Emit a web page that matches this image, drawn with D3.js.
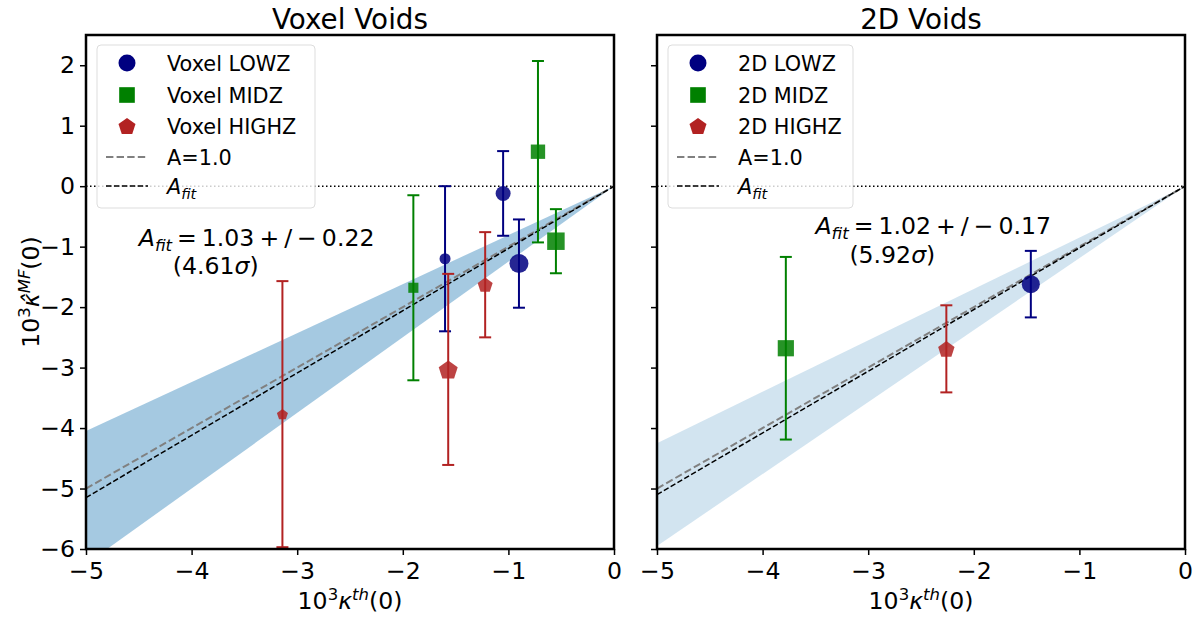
<!DOCTYPE html>
<html>
<head>
<meta charset="utf-8">
<script src="https://cdn.jsdelivr.net/npm/d3@7"></script>
<style>
  body { margin: 0; background: #fff; }
  svg text { font-family: "DejaVu Sans", sans-serif; fill: #000; }
</style>
</head>
<body>
<div id="chart"></div>
<script>
// ---- data ----
const xTicks = [-5, -4, -3, -2, -1, 0];
const yTicks = [-6, -5, -4, -3, -2, -1, 0, 1, 2];
const panelTitles = ['Voxel Voids', '2D Voids'];
const panelPrefix = ['Voxel', '2D'];
const fitA = [1.03, 1.02];
const fitErr = [0.22, 0.17];
const fitSigma = [4.61, 5.92];

const voxelLowX = [-1.60, -1.05, -0.90];
const voxelLowY = [-1.20, -0.12, -1.28];
const voxelLowErr = [1.20, 0.70, 0.73];
const voxelLowW = [0.55, 0.75, 0.95];

const voxelMidX = [-1.90, -0.72, -0.55];
const voxelMidY = [-1.68, 0.57, -0.91];
const voxelMidErr = [1.53, 1.50, 0.53];
const voxelMidW = [0.55, 0.78, 0.95];

const voxelHighX = [-3.14, -1.57, -1.22];
const voxelHighY = [-3.77, -3.03, -1.63];
const voxelHighErr = [2.20, 1.58, 0.87];
const voxelHighW = [0.55, 0.95, 0.75];

const twoDLowX = [-1.46];
const twoDLowY = [-1.62];
const twoDLowErr = [0.55];
const twoDLowW = [0.9];

const twoDMidX = [-3.78];
const twoDMidY = [-2.68];
const twoDMidErr = [1.51];
const twoDMidW = [0.88];

const twoDHighX = [-2.26];
const twoDHighY = [-2.69];
const twoDHighErr = [0.72];
const twoDHighW = [0.82];

const seriesNames = ['LOWZ', 'MIDZ', 'HIGHZ'];
const seriesColors = ['#000080', '#008000', '#b22222'];
const seriesShapes = ['circle', 'square', 'pentagon'];

function zip(xs, ys, es, ws) {
  return xs.map((x, i) => ({ x, y: ys[i], err: es[i], w: ws[i] }));
}

const panels = [
  [zip(voxelLowX, voxelLowY, voxelLowErr, voxelLowW),
   zip(voxelMidX, voxelMidY, voxelMidErr, voxelMidW),
   zip(voxelHighX, voxelHighY, voxelHighErr, voxelHighW)],
  [zip(twoDLowX, twoDLowY, twoDLowErr, twoDLowW),
   zip(twoDMidX, twoDMidY, twoDMidErr, twoDMidW),
   zip(twoDHighX, twoDHighY, twoDHighErr, twoDHighW)]
];

// ---- layout ----
const W = 1200, H = 619;
const panelLeft = [86, 657];
const panelWidth = 528;
const plotTop = 35, plotBottom = 549;
const bandAlpha = [0.4, 0.2];
const labelSize = 23.6, legendSize = 20.8, titleSize = 27.8;

const svg = d3.select('#chart').append('svg')
  .attr('width', W).attr('height', H)
  .attr('viewBox', `0 0 ${W} ${H}`);

const y = d3.scaleLinear().domain([-6, 2.5]).range([plotBottom, plotTop]);
const sizeScale = d3.scaleLinear().domain([0, 1]).range([0, 10]);
const fmt = d => d < 0 ? '\u2212' + Math.abs(d) : String(d);

function markerPath(shape, r) {
  if (shape === 'circle') {
    return d3.symbol(d3.symbolCircle, Math.PI * r * r)();
  }
  if (shape === 'square') {
    const s = r * 0.92;
    return `M${-s},${-s}H${s}V${s}H${-s}Z`;
  }
  const pts = d3.range(5).map(k => {
    const a = -Math.PI / 2 + k * 2 * Math.PI / 5;
    return [r * 1.05 * Math.cos(a), r * 1.05 * Math.sin(a) + r * 0.1];
  });
  return 'M' + pts.map(p => p.join(',')).join('L') + 'Z';
}

panels.forEach((series, p) => {
  const x = d3.scaleLinear().domain([-5, 0]).range([panelLeft[p], panelLeft[p] + panelWidth]);
  const g = svg.append('g');

  const clipId = `clip${p}`;
  svg.append('clipPath').attr('id', clipId)
    .append('rect')
    .attr('x', x(-5)).attr('y', plotTop)
    .attr('width', panelWidth).attr('height', plotBottom - plotTop);

  const plot = g.append('g').attr('clip-path', `url(#${clipId})`);

  // fit band
  const xs = [-5, 0];
  const band = d3.area()
    .x(d => x(d))
    .y0(d => y((fitA[p] + fitErr[p]) * d))
    .y1(d => y((fitA[p] - fitErr[p]) * d));
  plot.append('path').datum(xs)
    .attr('d', band)
    .attr('fill', '#1f77b4')
    .attr('fill-opacity', bandAlpha[p]);

  const line = a => d3.line().x(d => x(d)).y(d => y(a * d))(xs);
  plot.append('path').attr('d', line(1.0))
    .attr('fill', 'none').attr('stroke', '#808080')
    .attr('stroke-width', 2).attr('stroke-dasharray', '7.4,3.2');
  plot.append('path').attr('d', line(fitA[p]))
    .attr('fill', 'none').attr('stroke', '#000')
    .attr('stroke-width', 1.5).attr('stroke-dasharray', '5.5,2.4');

  // zero line
  plot.append('line')
    .attr('x1', x(-5)).attr('x2', x(0))
    .attr('y1', y(0)).attr('y2', y(0))
    .attr('stroke', '#000').attr('stroke-width', 1.5)
    .attr('stroke-dasharray', '1.5,2.5');

  // error bars + markers
  series.forEach((pts, s) => {
    const col = seriesColors[s];
    const eb = plot.append('g');
    pts.forEach(d => {
      const cx = x(d.x);
      eb.append('line')
        .attr('x1', cx).attr('x2', cx)
        .attr('y1', y(d.y + d.err)).attr('y2', y(d.y - d.err))
        .attr('stroke', col).attr('stroke-width', 2);
      [d.y + d.err, d.y - d.err].forEach(v => {
        eb.append('line')
          .attr('x1', cx - 6).attr('x2', cx + 6)
          .attr('y1', y(v)).attr('y2', y(v))
          .attr('stroke', col).attr('stroke-width', 2);
      });
    });
    plot.append('g').selectAll('path')
      .data(pts)
      .join('path')
      .attr('transform', d => `translate(${x(d.x)},${y(d.y)})`)
      .attr('d', d => markerPath(seriesShapes[s], sizeScale(d.w)))
      .attr('fill', col)
      .attr('fill-opacity', 0.85);
  });

  // axes
  const xAxis = g.append('g')
    .attr('transform', `translate(0,${plotBottom})`)
    .call(d3.axisBottom(x).tickValues(xTicks).tickSize(6).tickPadding(7).tickFormat(fmt));
  const yAxis = g.append('g')
    .attr('transform', `translate(${x(-5)},0)`)
    .call(d3.axisLeft(y).tickValues(yTicks).tickSize(6).tickPadding(5)
      .tickFormat(p === 0 ? fmt : () => ''));
  [xAxis, yAxis].forEach(a => {
    a.select('.domain').remove();
    a.selectAll('.tick line').attr('stroke', '#000').attr('stroke-width', 1.5);
    a.selectAll('.tick text').attr('font-size', labelSize).attr('font-family', 'DejaVu Sans');
  });

  // frame
  g.append('rect')
    .attr('x', x(-5)).attr('y', plotTop)
    .attr('width', panelWidth).attr('height', plotBottom - plotTop)
    .attr('fill', 'none').attr('stroke', '#000').attr('stroke-width', 2.5);

  // title
  g.append('text')
    .attr('x', x(-2.5)).attr('y', 29)
    .attr('text-anchor', 'middle').attr('font-size', titleSize)
    .text(panelTitles[p]);

  // x label
  const xl = g.append('text')
    .attr('x', x(-2.5)).attr('y', 609)
    .attr('text-anchor', 'middle').attr('font-size', labelSize);
  xl.append('tspan').text('10');
  xl.append('tspan').attr('font-size', 16.5).attr('dy', -9).text('3');
  xl.append('tspan').attr('font-style', 'italic').attr('dy', 9).text('\u03ba');
  xl.append('tspan').attr('font-style', 'italic').attr('font-size', 16.5).attr('dy', -9).text('th');
  xl.append('tspan').attr('dy', 9).text('(0)');

  // annotation
  const ax = x(p === 0 ? -4.5 : -3.5);
  const ann = g.append('text')
    .attr('x', ax)
    .attr('y', p === 0 ? 246 : 234)
    .attr('font-size', labelSize)
    .attr('word-spacing', -2.5);
  ann.append('tspan').attr('font-style', 'italic').text('A');
  ann.append('tspan').attr('font-style', 'italic').attr('font-size', 16.5).attr('dy', 5).text('fit');
  ann.append('tspan').attr('dy', -5)
    .text(` = ${fitA[p].toFixed(2)} + / \u2212 ${fitErr[p].toFixed(2)}`);
  const ann2 = g.append('text')
    .attr('x', ax + 34)
    .attr('y', p === 0 ? 274 : 263)
    .attr('font-size', labelSize);
  ann2.append('tspan').text(`(${fitSigma[p].toFixed(2)}`);
  ann2.append('tspan').attr('font-style', 'italic').text('\u03c3');
  ann2.append('tspan').text(')');

  // legend
  const lx = x(-5) + 11, ly = 45;
  const leg = g.append('g');
  leg.append('rect')
    .attr('x', lx).attr('y', ly)
    .attr('width', p === 0 ? 218 : 185).attr('height', 163)
    .attr('rx', 4)
    .attr('fill', '#fff').attr('fill-opacity', 0.8)
    .attr('stroke', '#ddd').attr('stroke-width', 1);
  const rowY = [63, 95, 126, 157, 186];
  const mx = lx + 30, tx = lx + 70;
  seriesNames.forEach((n, s) => {
    leg.append('path')
      .attr('transform', `translate(${mx},${rowY[s]})`)
      .attr('d', markerPath(seriesShapes[s], 8.5))
      .attr('fill', seriesColors[s]);
    leg.append('text')
      .attr('x', tx).attr('y', rowY[s] + 7.5)
      .attr('font-size', legendSize)
      .text(`${panelPrefix[p]} ${n}`);
  });
  leg.append('line')
    .attr('x1', mx - 21).attr('x2', mx + 21)
    .attr('y1', rowY[3]).attr('y2', rowY[3])
    .attr('stroke', '#808080').attr('stroke-width', 2)
    .attr('stroke-dasharray', '7.4,3.2');
  leg.append('text')
    .attr('x', tx).attr('y', rowY[3] + 7.5).attr('font-size', legendSize).text('A=1.0');
  leg.append('line')
    .attr('x1', mx - 21).attr('x2', mx + 21)
    .attr('y1', rowY[4]).attr('y2', rowY[4])
    .attr('stroke', '#000').attr('stroke-width', 1.5)
    .attr('stroke-dasharray', '5.5,2.4');
  const lt = leg.append('text')
    .attr('x', tx).attr('y', rowY[4] + 7.5).attr('font-size', legendSize);
  lt.append('tspan').attr('font-style', 'italic').text('A');
  lt.append('tspan').attr('font-style', 'italic').attr('font-size', 14.5).attr('dy', 5).text('fit');
});

// y label (left panel only)
const yl = svg.append('text')
  .attr('transform', `translate(39,${(plotTop + plotBottom) / 2}) rotate(-90)`)
  .attr('text-anchor', 'middle').attr('font-size', labelSize);
yl.append('tspan').text('10');
yl.append('tspan').attr('font-size', 16.5).attr('dy', -9).text('3');
yl.append('tspan').attr('font-style', 'italic').attr('dy', 9).text('\u03ba\u0302');
yl.append('tspan').attr('font-style', 'italic').attr('font-size', 16.5).attr('dy', -9).text('MF');
yl.append('tspan').attr('dy', 9).text('(0)');
</script>
</body>
</html>
